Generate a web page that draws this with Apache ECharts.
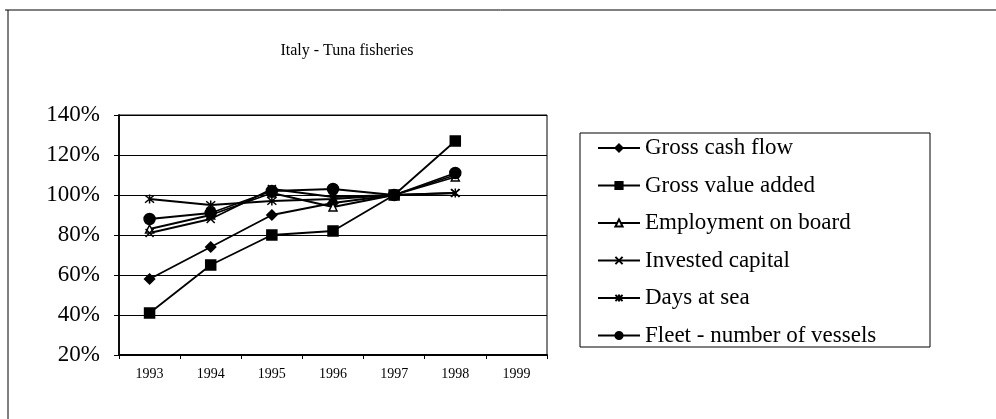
<!DOCTYPE html>
<html><head><meta charset="utf-8">
<script src="https://cdn.jsdelivr.net/npm/echarts@6/dist/echarts.min.js"></script>
<style>html,body{margin:0;padding:0;background:#fff}#c{width:996px;height:419px}</style>
</head><body><div id="c"></div>
<script>
const years = ['1993','1994','1995','1996','1997','1998','1999'];
const grossCashFlow = [58, 74, 90, 96, 100, 110];
const grossValueAdded = [41, 65, 80, 82, 100, 127];
const employment = [83, 90, 101, 94, 100, 109];
const investedCapital = [81, 88, 103, 99, 100, 101];
const daysAtSea = [98, 95, 97, 98, 100, 101];
const fleet = [88, 91, 102, 103, 100, 111];
const seriesNames = ['Gross cash flow','Gross value added','Employment on board','Invested capital','Days at sea','Fleet - number of vessels'];

const F = 'Liberation Serif';
const xPath = 'path://M0,0L10,10M10,0L0,10';
const starPath = 'path://M0,0L10,10M10,0L0,10M5,-1L5,11';
function s(name, data, symbol, size, fill) {
  return {
    name, type: 'line', data, symbol, symbolSize: size,
    lineStyle: {color: '#000', width: 1.8},
    itemStyle: {color: fill || '#000', borderColor: '#000', borderWidth: 1.5},
    emphasis: {disabled: true}, animation: false
  };
}
const chart = echarts.init(document.getElementById('c'));
chart.setOption({
  animation: false,
  title: {text: 'Italy - Tuna fisheries', left: 342, top: 38, textAlign: 'center',
    textStyle: {fontFamily: F, fontSize: 16, fontWeight: 'normal', color: '#000'}},
  grid: {left: 119, right: 449, top: 115, bottom: 64, show: true, borderColor: '#000', borderWidth: 1},
  xAxis: {type: 'category', data: years, boundaryGap: true,
    axisLine: {lineStyle: {color: '#000', width: 1.8}},
    axisTick: {show: true, length: 4, lineStyle: {color: '#000'}},
    axisLabel: {fontFamily: F, fontSize: 14, color: '#000', margin: 12}},
  yAxis: {type: 'value', min: 20, max: 140, interval: 20,
    axisLine: {show: true, lineStyle: {color: '#000', width: 1.8}},
    axisTick: {show: true, length: 5, lineStyle: {color: '#000'}},
    splitLine: {lineStyle: {color: '#000', width: 1}},
    axisLabel: {fontFamily: F, fontSize: 23, color: '#000', margin: 19, formatter: '{value}%'}},
  legend: {orient: 'vertical', left: 592, top: 131.5, itemWidth: 42, itemHeight: 9, itemGap: 14.5,
    data: seriesNames,
    textStyle: {fontFamily: F, fontSize: 23, color: '#000'}},
  graphic: [
    {type: 'line', shape: {x1: 5, y1: 10, x2: 996, y2: 10}, style: {stroke: '#000', lineWidth: 1}},
    {type: 'line', shape: {x1: 8, y1: 10, x2: 8, y2: 419}, style: {stroke: '#000', lineWidth: 1}},
    {type: 'rect', shape: {x: 580, y: 133, width: 350, height: 214}, style: {fill: 'none', stroke: '#000', lineWidth: 1}}
  ],
  series: [
    s(seriesNames[0], grossCashFlow, 'diamond', 10),
    s(seriesNames[1], grossValueAdded, 'rect', 10),
    s(seriesNames[2], employment, 'triangle', 8, '#fff'),
    s(seriesNames[3], investedCapital, xPath, 8),
    s(seriesNames[4], daysAtSea, starPath, 9),
    s(seriesNames[5], fleet, 'circle', 11)
  ]
});
</script></body></html>
